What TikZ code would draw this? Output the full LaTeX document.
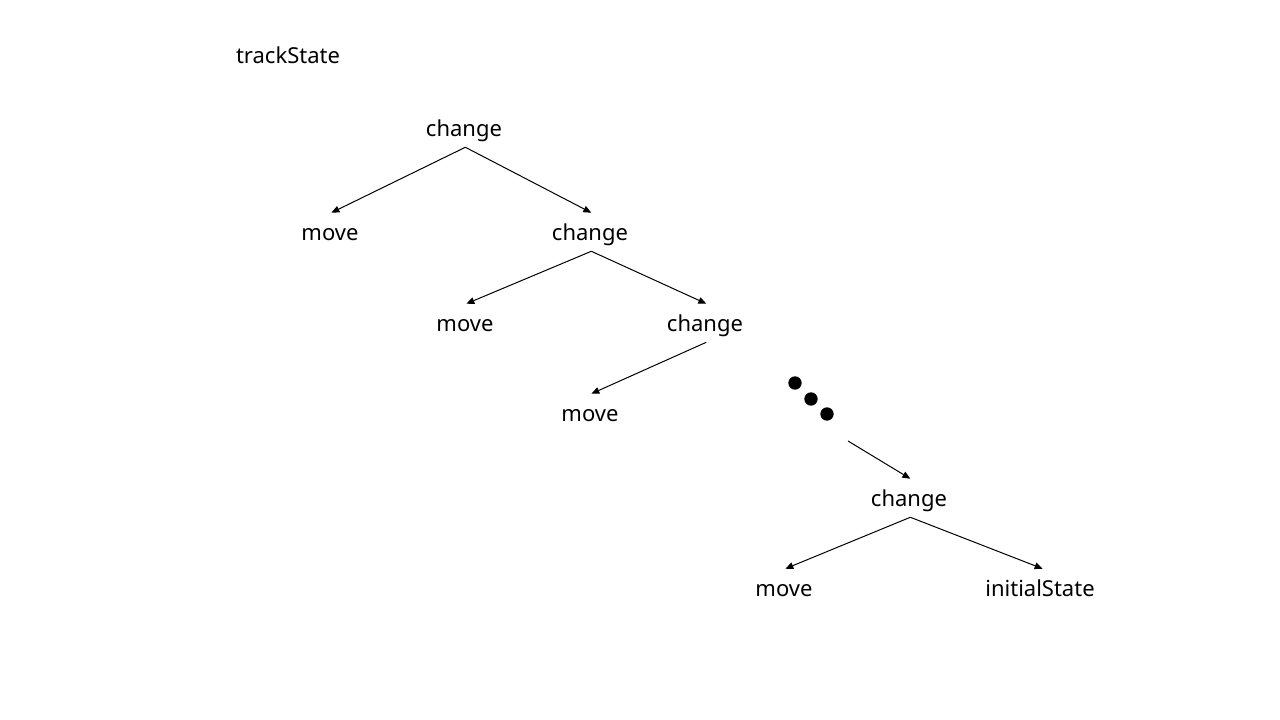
\documentclass[tikz,border=0pt]{standalone}
\usepackage{fontspec}
\setmainfont{Noto Sans}
\usetikzlibrary{arrows.meta}
\begin{document}
\begin{tikzpicture}[x=0.75pt,y=-0.75pt,
  lbl/.style={inner sep=0pt,minimum height=28.5pt,text height=14pt,text depth=1pt,font=\fontsize{16.5}{20}\selectfont},
  arr/.style={line width=0.75pt,-{Triangle[length=6pt,width=5pt]}},
  dot/.style={circle,fill=black,inner sep=0pt,minimum size=10pt}]
\useasboundingbox (0,0) rectangle (1280,720);
\node[lbl] (ts) at (288,55) {trackState};
\node[lbl] (c1) at (464,128) {change};
\node[lbl] (m1) at (330,232) {move};
\node[lbl] (c2) at (590,232) {change};
\node[lbl] (m2) at (465,323) {move};
\node[lbl] (c3) at (705,323) {change};
\node[lbl] (m3) at (590,413) {move};
\node[dot] (d1) at (795,383) {};
\node[dot] (d2) at (811,399) {};
\node[dot] (d3) at (827,414) {};
\coordinate (dd) at (848,441);
\node[lbl] (c4) at (909,498) {change};
\node[lbl] (m4) at (784,588) {move};
\node[lbl] (is) at (1040,588) {initialState};
\draw[arr] ([xshift=1pt]c1.south) -- ([xshift=1pt]m1.north);
\draw[arr] ([xshift=1pt]c1.south) -- ([xshift=1pt]c2.north);
\draw[arr] ([xshift=1pt]c2.south) -- ([xshift=1pt]m2.north);
\draw[arr] ([xshift=1pt]c2.south) -- ([xshift=1pt]c3.north);
\draw[arr] ([xshift=1pt]c3.south) -- ([xshift=1pt]m3.north);
\draw[arr] (dd) -- ([xshift=1pt]c4.north);
\draw[arr] ([xshift=1pt]c4.south) -- ([xshift=1pt]m4.north);
\draw[arr] ([xshift=1pt]c4.south) -- ([xshift=2pt]is.north);
\end{tikzpicture}
\end{document}
